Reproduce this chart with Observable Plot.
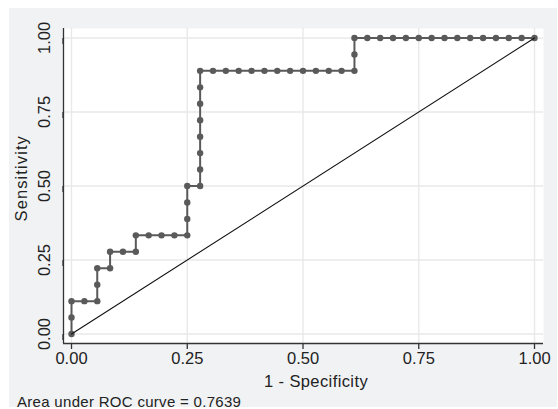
<!DOCTYPE html>
<html>
<head>
<meta charset="utf-8">
<script src="https://cdn.jsdelivr.net/npm/d3@7"></script>
<script src="https://cdn.jsdelivr.net/npm/@observablehq/plot@0.6"></script>
<style>
  html, body { margin: 0; padding: 0; background: #ffffff; }
  #wrap { position: relative; width: 558px; height: 409px; overflow: hidden; background: #ffffff;
          font-family: "Liberation Sans", Arial, sans-serif; color: #222; }
  #bg { position: absolute; left: 9px; top: 8px; width: 548px; height: 399px; background: #f1f2f4; }
  #chart { position: absolute; left: 0; top: 0; }
  .lbl { position: absolute; line-height: 1; white-space: nowrap; text-align: center; }
  #xtitle { left: 216px; top: 373px; width: 200px; font-size: 16.5px; letter-spacing: 0.4px; }
  #ytitle { left: -78.7px; top: 170px; width: 200px; height: 16.5px; font-size: 16.5px; letter-spacing: 1.1px;
            transform: rotate(-90deg); transform-origin: 50% 50%; }
  #caption { left: 17px; top: 394px; font-size: 15px; text-align: left; letter-spacing: 0.3px; }
</style>
</head>
<body>
<div id="wrap">
  <div id="bg"></div>
  <div id="chart"></div>
  <div class="lbl" id="xtitle">1 - Specificity</div>
  <div class="lbl" id="ytitle">Sensitivity</div>
  <div class="lbl" id="caption">Area under ROC curve = 0.7639</div>
</div>
<script>
// ROC curve points (1 - specificity, sensitivity)
const fpr = [
  0, 0, 0, 0.0278, 0.0556, 0.0556, 0.0556, 0.0833, 0.0833, 0.1111,
  0.1389, 0.1389, 0.1667, 0.1944, 0.2222, 0.25, 0.25, 0.25, 0.25, 0.2778,
  0.2778, 0.2778, 0.2778, 0.2778, 0.2778, 0.2778, 0.2778, 0.3056, 0.3333, 0.3611,
  0.3889, 0.4167, 0.4444, 0.4722, 0.5, 0.5278, 0.5556, 0.5833, 0.6111, 0.6111,
  0.6111, 0.6389, 0.6667, 0.6944, 0.7222, 0.75, 0.7778, 0.8056, 0.8333, 0.8611,
  0.8889, 0.9167, 0.9444, 0.9722, 1
];
const sensitivity = [
  0, 0.0556, 0.1111, 0.1111, 0.1111, 0.1667, 0.2222, 0.2222, 0.2778, 0.2778,
  0.2778, 0.3333, 0.3333, 0.3333, 0.3333, 0.3333, 0.3889, 0.4444, 0.5, 0.5,
  0.5556, 0.6111, 0.6667, 0.7222, 0.7778, 0.8333, 0.8889, 0.8889, 0.8889, 0.8889,
  0.8889, 0.8889, 0.8889, 0.8889, 0.8889, 0.8889, 0.8889, 0.8889, 0.8889, 0.9444,
  1, 1, 1, 1, 1, 1, 1, 1, 1, 1,
  1, 1, 1, 1, 1
];
// reference (chance) line
const refX = [0, 1];
const refY = [0, 1];
// axis ticks
const ticks = [0, 0.25, 0.5, 0.75, 1];
const tickLabels = ["0.00", "0.25", "0.50", "0.75", "1.00"];

const xDomain = [-0.0173, 1.0194];
const yDomain = [-0.032, 1.032];

const roc = fpr.map((x, i) => ({x, y: sensitivity[i]}));
const diag = refX.map((x, i) => ({x, y: refY[i]}));
const fmt = d => tickLabels[ticks.indexOf(d)];

const chart = Plot.plot({
  width: 558,
  height: 409,
  marginLeft: 63,
  marginRight: 15,
  marginTop: 28,
  marginBottom: 66,
  style: {background: "transparent", fontFamily: "'Liberation Sans', Arial, sans-serif", fontSize: "16.5px", color: "#222"},
  x: {domain: xDomain},
  y: {domain: yDomain},
  marks: [
    Plot.frame({fill: "white", stroke: "none"}),
    Plot.gridX(ticks, {stroke: "#e9e9e9", strokeOpacity: 1, strokeWidth: 1.4}),
    Plot.gridY(ticks, {stroke: "#e9e9e9", strokeOpacity: 1, strokeWidth: 1.4}),
    Plot.axisX(ticks, {tickFormat: fmt, tickSize: 6, tickPadding: 2.7, stroke: "#333", strokeWidth: 1.3, fill: "#222", label: null}),
    Plot.axisY(ticks, {tickFormat: fmt, tickSize: 6, tickPadding: 12.8, rotate: -90, textAnchor: "middle", lineAnchor: "middle", stroke: "#333", strokeWidth: 1.3, fill: "#222", label: null}),
    Plot.ruleX([xDomain[0]], {stroke: "#333", strokeWidth: 1.3}),
    Plot.ruleY([yDomain[0]], {stroke: "#333", strokeWidth: 1.3}),
    Plot.line(roc, {x: "x", y: "y", stroke: "#5a5a5a", strokeWidth: 2}),
    Plot.dot(roc, {x: "x", y: "y", r: 3.2, fill: "#5a5a5a", stroke: "none"}),
    Plot.line(diag, {x: "x", y: "y", stroke: "#111", strokeWidth: 1.1})
  ]
});
document.getElementById("chart").appendChild(chart);
</script>
</body>
</html>
